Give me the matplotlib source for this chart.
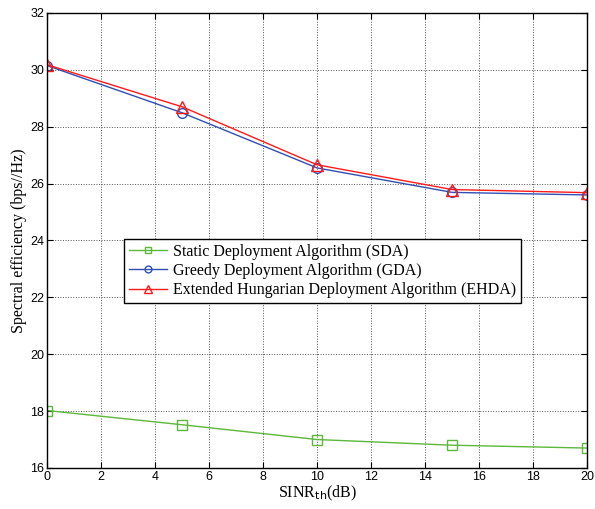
import matplotlib
matplotlib.use("Agg")
import matplotlib.pyplot as plt

# data
sinr_th = [0, 5, 10, 15, 20]
sda = [18.02, 17.52, 17.00, 16.80, 16.70]
gda = [30.15, 28.49, 26.55, 25.69, 25.60]
ehda = [30.18, 28.70, 26.66, 25.79, 25.68]

xticks = list(range(0, 21, 2))
yticks = list(range(16, 33, 2))

labels = [
    "Static Deployment Algorithm (SDA)",
    "Greedy Deployment Algorithm (GDA)",
    "Extended Hungarian Deployment Algorithm (EHDA)",
]

serif = ["Liberation Serif", "DejaVu Serif"]
sans = ["Liberation Sans", "DejaVu Sans"]

fig = plt.figure(figsize=(5.95, 5.09), dpi=100)
ax = fig.add_axes([0.079, 0.0806, 0.908, 0.894])

ax.plot(sinr_th, sda, color="#5cb83a", lw=1.0, marker="s", ms=7,
        mfc="none", mec="#5cb83a", mew=1.0, label=labels[0])
ax.plot(sinr_th, gda, color="#2f4fb5", lw=1.0, marker="o", ms=7,
        mfc="none", mec="#2f4fb5", mew=1.0, label=labels[1])
ax.plot(sinr_th, ehda, color="#ff1a1a", lw=1.0, marker="^", ms=8,
        mfc="none", mec="#ff1a1a", mew=1.0, label=labels[2])

ax.set_xlim(0, 20)
ax.set_ylim(16, 32)
ax.set_xticks(xticks)
ax.set_yticks(yticks)
ax.grid(True, linestyle=":", color="#505050", lw=0.7)
ax.tick_params(direction="in", top=True, right=True, length=4, labelsize=9,
               pad=2)
for lab in ax.get_xticklabels() + ax.get_yticklabels():
    lab.set_family(sans)
for sp in ax.spines.values():
    sp.set_linewidth(1.0)

ax.set_xlabel(r"SINR$_{\mathrm{th}}$(dB)", family=serif, fontsize=11.5, labelpad=1)
ax.set_ylabel("Spectral efficiency (bps//Hz)", family=serif, fontsize=11.5, labelpad=2)

leg = ax.legend(loc="upper left", bbox_to_anchor=(0.143, 0.503),
                prop={"family": serif, "size": 11.5}, fancybox=False,
                framealpha=1, edgecolor="black", handlelength=2.4,
                borderpad=0.3, labelspacing=0.2, handletextpad=0.35,
                markerscale=0.7, borderaxespad=0)
leg.get_frame().set_linewidth(1.0)

fig.savefig("out.png", dpi=100)
